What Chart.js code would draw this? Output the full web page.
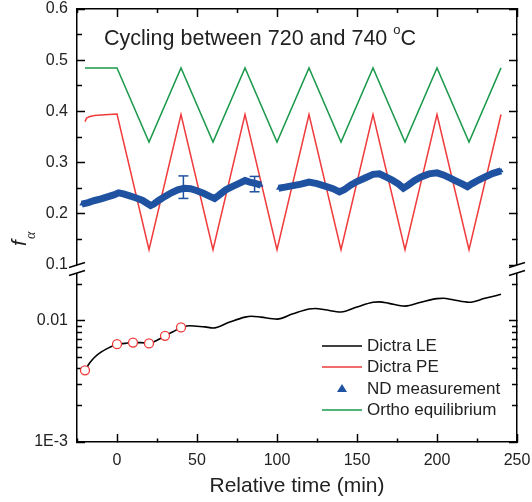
<!DOCTYPE html>
<html><head><meta charset="utf-8">
<script src="https://cdn.jsdelivr.net/npm/chart.js@4.4.0/dist/chart.umd.min.js"></script>
<style>html,body{margin:0;padding:0;background:#fff}canvas{display:block}</style>
</head><body>
<canvas id="c" width="532" height="502"></canvas>
<script>
// ---------------- data ----------------
const xTickValues = [-25,0,25,50,75,100,125,150,175,200,225,250];
const xTickLabels = ['','0','','50','','100','','150','','200','','250'];
const fTopTicks  = [0.1,0.15,0.2,0.25,0.3,0.35,0.4,0.45,0.5,0.55,0.6];
const fTopLabels = ['0.1','','0.2','','0.3','','0.4','','0.5','','0.6'];
const fLogTicks  = [0.001,0.002,0.003,0.004,0.005,0.006,0.007,0.008,0.009,0.01,0.02];
const fLogLabels = ['1E-3','','','','','','','','','0.01',''];

const orthoX = [-20,0,20,40,60,80,100,120,140,160,180,200,220,240];
const orthoY = [0.485,0.485,0.340,0.485,0.340,0.485,0.340,0.485,0.340,0.485,0.340,0.485,0.340,0.485];

const peX = [-20,-19,-17,-14,-10,-5,0,20,40,60,80,100,120,140,160,180,200,220,240];
const peY = [0.380,0.387,0.390,0.392,0.393,0.394,0.395,0.130,0.394,0.130,0.394,0.130,0.394,0.130,0.394,0.130,0.394,0.130,0.394];

const leX = [-20,-17,-14,-10,-5,0,5,10,15,20,25,30,35,40,45,50,55,60,70,80,84,90,100,110,120,124,130,140,150,160,164,170,180,190,200,204,210,220,230,240];
const leY = [0.0039,0.0045,0.0050,0.0055,0.0060,0.0064,0.0065,0.0066,0.0066,0.0065,0.0069,0.0075,0.0081,0.0088,0.0091,0.0090,0.0089,0.0087,0.0097,0.0107,0.0109,0.0107,0.0103,0.0114,0.0125,0.0126,0.0123,0.0118,0.0130,0.0142,0.0143,0.0139,0.0132,0.0142,0.0152,0.0153,0.0149,0.0142,0.0153,0.0165];

const circX = [-20,0,10,20,30,40];
const circY = [0.0039,0.0064,0.0066,0.0065,0.0075,0.0088];

const ndX = [-22,-18,-14,-10,-6,-2,1,4,8,12,16,19,21,23,26,30,34,38,42,46,50,54,58,61,64,68,72,76,80,83,87,90,95,101,105,110,115,120,125,130,135,139,142,146,150,155,160,164,168,172,176,179,182,186,190,195,200,204,208,212,216,219,222,226,230,235,240];
const ndY = [0.219,0.222,0.226,0.229,0.233,0.237,0.241,0.239,0.235,0.231,0.226,0.220,0.216,0.219,0.226,0.234,0.241,0.247,0.250,0.249,0.245,0.240,0.234,0.230,0.237,0.247,0.253,0.259,0.265,0.262,0.259,0.256,null,0.250,0.252,0.255,0.258,0.262,0.259,0.254,0.249,0.243,0.247,0.256,0.263,0.270,0.277,0.278,0.272,0.266,0.258,0.250,0.256,0.265,0.272,0.278,0.280,0.276,0.270,0.264,0.258,0.253,0.259,0.266,0.272,0.279,0.284];

const errX    = [41.5, 86];
const errLow  = [0.230, 0.243];
const errHigh = [0.274, 0.273];

const legendLabels = ['Dictra LE','Dictra PE','ND measurement','Ortho equilibrium'];

// ---------------- styles ----------------
const GREEN = '#1b9a4b', RED = '#ef3b3b', BLUE = '#1f52a0', BLACK = '#000', TXT = '#222';
Chart.defaults.font.family = '"Liberation Sans", Arial, Helvetica, sans-serif';
Chart.defaults.color = TXT;

const pts = (xs, ys) => xs.map((x, i) => ({x, y: ys[i]}));
const errPts = [];
errX.forEach((x, i) => { errPts.push({x, y: errLow[i]}, {x, y: errHigh[i]}, {x, y: null}); });

const border = {display: true, color: '#000', width: 1.5};
function gridOpts(labels, minorDash) {
  return {display: true, drawOnChartArea: false, drawTicks: true, tickLength: -8,
    tickColor: '#000', tickWidth: 1.5, tickBorderDash: c => (labels[c.index] ? [] : minorDash)};
}
const setTicks = vals => s => { s.ticks = vals.map(v => ({value: v})); };

const decor = {
  id: 'decor',
  afterDraw(chart) {
    const ctx = chart.ctx, a = chart.chartArea;
    const yb = chart.scales.yTop.getPixelForValue(fTopTicks[0]);
    // axis breaks
    [a.left, a.right].forEach(xa => {
      ctx.save();
      ctx.fillStyle = '#fff';
      ctx.beginPath();
      ctx.moveTo(xa - 8, yb + 2.5); ctx.lineTo(xa + 8, yb - 2.5);
      ctx.lineTo(xa + 8, yb + 5.5); ctx.lineTo(xa - 8, yb + 10.5);
      ctx.closePath(); ctx.fill();
      ctx.strokeStyle = '#000'; ctx.lineWidth = 1.4;
      ctx.beginPath();
      ctx.moveTo(xa - 8, yb + 2.5); ctx.lineTo(xa + 8, yb - 2.5);
      ctx.moveTo(xa - 8, yb + 10.5); ctx.lineTo(xa + 8, yb + 5.5);
      ctx.stroke();
      ctx.restore();
    });
    // y title f_alpha
    ctx.save();
    ctx.fillStyle = TXT;
    ctx.translate(26, 246);
    ctx.rotate(-Math.PI / 2);
    ctx.textBaseline = 'alphabetic'; ctx.textAlign = 'left';
    ctx.font = 'italic 21px "Liberation Sans", Arial, sans-serif';
    ctx.fillText('f', 0, 0);
    ctx.font = 'italic 14px "Liberation Serif", serif';
    ctx.fillText('\u03B1', 7, 9);
    ctx.restore();
    // annotation
    ctx.save();
    ctx.fillStyle = TXT; ctx.textBaseline = 'alphabetic'; ctx.textAlign = 'left';
    const big = '21.5px "Liberation Sans", Arial, sans-serif';
    const s1 = 'Cycling between 720 and 740 ';
    const tx = a.left + 27, ty = a.top + 36;
    ctx.font = big; ctx.fillText(s1, tx, ty);
    let w = ctx.measureText(s1).width;
    ctx.font = '13px "Liberation Sans", Arial, sans-serif';
    ctx.fillText('o', tx + w, ty - 11);
    w += ctx.measureText('o').width;
    ctx.font = big; ctx.fillText('C', tx + w, ty);
    ctx.restore();
    // legend
    ctx.save();
    const styles = [{t: 'line', c: BLACK}, {t: 'line', c: RED}, {t: 'tri', c: BLUE}, {t: 'line', c: GREEN}];
    const rows = [346, 367, 388.5, 410];
    const lx0 = a.right - 195, lx1 = a.right - 155, ltx = a.right - 150;
    ctx.font = '17px "Liberation Sans", Arial, sans-serif';
    ctx.textBaseline = 'middle'; ctx.textAlign = 'left';
    legendLabels.forEach((lab, i) => {
      const y = rows[i], st = styles[i];
      if (st.t === 'line') {
        ctx.strokeStyle = st.c; ctx.lineWidth = 1.5;
        ctx.beginPath(); ctx.moveTo(lx0, y); ctx.lineTo(lx1, y); ctx.stroke();
      } else {
        const cx = (lx0 + lx1) / 2;
        ctx.fillStyle = st.c;
        ctx.beginPath(); ctx.moveTo(cx, y - 4.5); ctx.lineTo(cx + 5, y + 3.5); ctx.lineTo(cx - 5, y + 3.5);
        ctx.closePath(); ctx.fill();
      }
      ctx.fillStyle = TXT;
      ctx.fillText(lab, ltx, y + 0.5);
    });
    ctx.restore();
  }
};

new Chart(document.getElementById('c'), {
  type: 'line',
  data: {
    datasets: [
      {label: 'Ortho equilibrium', data: pts(orthoX, orthoY), yAxisID: 'yTop', xAxisID: 'x',
       borderColor: GREEN, borderWidth: 1.5, pointRadius: 0, order: 4},
      {label: 'Dictra PE', data: pts(peX, peY), yAxisID: 'yTop', xAxisID: 'x',
       borderColor: RED, borderWidth: 1.5, pointRadius: 0, order: 3},
      {label: 'Dictra LE', data: pts(leX, leY), yAxisID: 'yBot', xAxisID: 'x',
       borderColor: BLACK, borderWidth: 1.6, pointRadius: 0, cubicInterpolationMode: 'monotone', order: 2},
      {label: 'Dictra LE points', data: pts(circX, circY), yAxisID: 'yBot', xAxisID: 'x', showLine: false,
       pointStyle: 'circle', pointRadius: 4.5, pointBorderColor: RED, pointBackgroundColor: '#fff',
       pointBorderWidth: 1.3, order: 1},
      {label: 'ND measurement', data: pts(ndX, ndY), yAxisID: 'yTop', xAxisID: 'x',
       borderColor: BLUE, borderWidth: 7, pointStyle: 'triangle', pointRadius: 3,
       pointBackgroundColor: BLUE, pointBorderWidth: 0, spanGaps: false, order: 0},
      {label: 'ND error', data: errPts, yAxisID: 'yTop', xAxisID: 'x',
       borderColor: BLUE, borderWidth: 1.5, pointStyle: 'line', pointRadius: 5,
       pointBorderColor: BLUE, pointBorderWidth: 1.5, spanGaps: false, order: 0}
    ]
  },
  options: {
    responsive: false, animation: false, devicePixelRatio: 1, events: [],
    layout: {padding: {left: 17, right: 15, top: 9, bottom: 0}},
    plugins: {legend: {display: false}, tooltip: {enabled: false}},
    scales: {
      x: {type: 'linear', position: 'bottom', min: -25, max: 250, afterBuildTicks: setTicks(xTickValues),
        afterFit: s => { s.height = 60; s.paddingLeft = 0; s.paddingRight = 0; },
        ticks: {autoSkip: false, maxRotation: 0, padding: 19, font: {size: 16, lineHeight: 1},
                callback: (v, i) => xTickLabels[i]},
        grid: gridOpts(xTickLabels, [4, 100]), border,
        title: {display: true, text: 'Relative time (min)', font: {size: 21}, padding: {top: 0, bottom: 3}}},
      xTop: {type: 'linear', position: 'top', min: -25, max: 250, afterBuildTicks: setTicks(xTickValues),
        afterFit: s => { s.height = 0; s.paddingLeft = 0; s.paddingRight = 0; },
        ticks: {display: false}, grid: gridOpts(xTickLabels, [0, 4, 4, 100]), border},
      yTop: {type: 'linear', position: 'left', stack: 'L', stackWeight: 256, weight: 1, min: 0.1, max: 0.6,
        afterBuildTicks: setTicks(fTopTicks),
        afterFit: s => { s.width = 60; s.paddingTop = 0; s.paddingBottom = 0; },
        ticks: {padding: 17, font: {size: 16, lineHeight: 1}, autoSkip: false, callback: (v, i) => fTopLabels[i]},
        grid: gridOpts(fTopLabels, [0, 3, 5, 100]), border},
      yBot: {type: 'logarithmic', position: 'left', stack: 'L', stackWeight: 177, weight: 0, min: 0.001, max: 0.0288,
        afterBuildTicks: setTicks(fLogTicks),
        afterFit: s => { s.width = 60; s.paddingTop = 0; s.paddingBottom = 0; },
        ticks: {padding: 17, font: {size: 16, lineHeight: 1}, autoSkip: false, callback: (v, i) => fLogLabels[i]},
        grid: gridOpts(fLogLabels, [0, 3, 5, 100]), border},
      yTopR: {type: 'linear', position: 'right', stack: 'R', stackWeight: 256, weight: 0, min: 0.1, max: 0.6,
        afterBuildTicks: setTicks(fTopTicks),
        afterFit: s => { s.width = 0; s.paddingTop = 0; s.paddingBottom = 0; },
        ticks: {display: false}, grid: gridOpts(fTopLabels, [5.5, 100]), border},
      yBotR: {type: 'logarithmic', position: 'right', stack: 'R', stackWeight: 177, weight: 1, min: 0.001, max: 0.0288,
        afterBuildTicks: setTicks(fLogTicks),
        afterFit: s => { s.width = 0; s.paddingTop = 0; s.paddingBottom = 0; },
        ticks: {display: false}, grid: gridOpts(fLogLabels, [5.5, 100]), border}
    }
  },
  plugins: [decor]
});
</script>
</body></html>
